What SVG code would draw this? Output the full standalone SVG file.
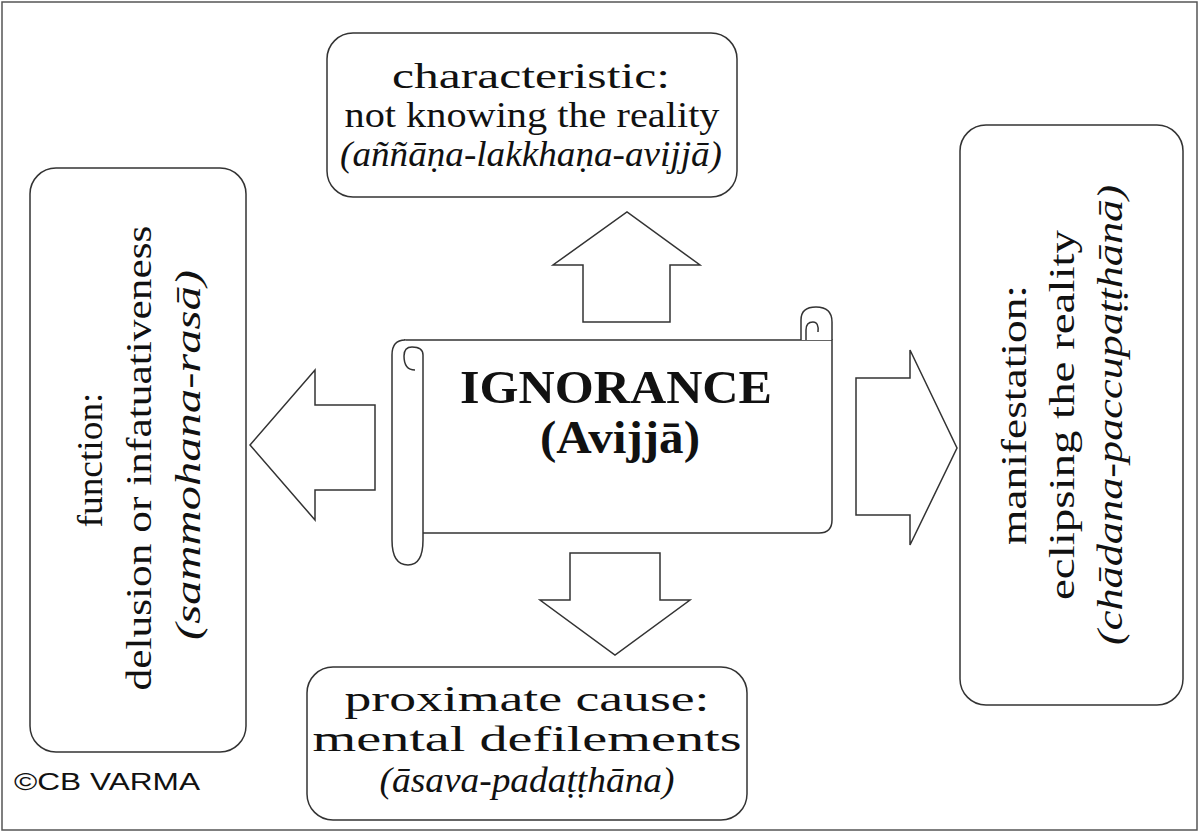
<svg xmlns="http://www.w3.org/2000/svg" width="1200" height="833" viewBox="0 0 1200 833">
<style>
.box{fill:#fff;stroke:#333;stroke-width:1.5}
.ar{fill:#fff;stroke:#333;stroke-width:1.5;stroke-linejoin:miter}
.t{font-family:"Liberation Serif",serif;font-size:36px;fill:#111;text-anchor:middle}
.i{font-style:italic}
.b{font-size:46px;font-weight:bold}
</style>
<rect x="0" y="0" width="1200" height="833" fill="#fff"/>
<rect x="2" y="2" width="1195" height="828" fill="none" stroke="#555" stroke-width="1.5"/>
<g id="connectors">
<polygon class="ar" points="583,322 583,265 553,265 627,212 700,265 670,265 670,322"/>
<polygon class="ar" points="375,405 315,405 315,370 250,445 315,520 315,490 375,490"/>
<polygon class="ar" points="856,378 910,378 910,350 957,448 910,545 910,515 856,515"/>
<polygon class="ar" points="570,553 660,553 660,600 690,600 615,655 540,600 570,600"/>
</g>
<g id="top">
<rect class="box" x="327" y="33" width="410" height="164" rx="26"/>
<text class="t" x="531" y="88" textLength="278" lengthAdjust="spacingAndGlyphs">characteristic:</text>
<text class="t" x="532" y="127" textLength="375" lengthAdjust="spacingAndGlyphs">not knowing the reality</text>
<text class="t i" x="531" y="166" textLength="382" lengthAdjust="spacingAndGlyphs">(aññāṇa-lakkhaṇa-avijjā)</text>
</g>
<g id="left">
<rect class="box" x="30" y="168" width="216" height="584" rx="26"/>
<g transform="translate(138,460) rotate(-90)">
<text class="t" x="0" y="-36" textLength="135" lengthAdjust="spacingAndGlyphs">function:</text>
<text class="t" x="2" y="13" textLength="465" lengthAdjust="spacingAndGlyphs">delusion or infatuativeness</text>
<text class="t i" x="5" y="62" textLength="370" lengthAdjust="spacingAndGlyphs">(sammohana-rasā)</text>
</g>
</g>
<g id="right">
<rect class="box" x="960" y="125" width="223" height="580" rx="26"/>
<g transform="translate(1072,415) rotate(-90)">
<text class="t" x="0" y="-46" textLength="260" lengthAdjust="spacingAndGlyphs">manifestation:</text>
<text class="t" x="0" y="2" textLength="370" lengthAdjust="spacingAndGlyphs">eclipsing the reality</text>
<text class="t i" x="0" y="50" textLength="460" lengthAdjust="spacingAndGlyphs">(chādana-paccupaṭṭhānā)</text>
</g>
</g>
<g id="bottom">
<rect class="box" x="307" y="667" width="440" height="153" rx="26"/>
<text class="t" x="527" y="711" textLength="365" lengthAdjust="spacingAndGlyphs">proximate cause:</text>
<text class="t" x="527" y="751" textLength="429" lengthAdjust="spacingAndGlyphs">mental defilements</text>
<text class="t i" x="527" y="792" textLength="295" lengthAdjust="spacingAndGlyphs">(āsava-padaṭṭhāna)</text>
</g>
<g id="center">
<path class="box" d="M404,340 L832,340 L832,520 Q832,533 819,533 L423,533"/>
<path class="box" d="M405,340 Q392,340 392,355 L392,540 Q392,565 408,565 Q423,565 423,540 L423,355 Q423,347 412,347 Q404,347 404,356 Q404,370 415,370"/>
<path class="box" d="M801,340 L801,320 Q801,307 816,307 Q832,307 832,322 L832,340 M806,340 L806,330 Q806,322 813,322 Q819,322 818,332"/>
<text class="t b" x="616" y="403" textLength="312" lengthAdjust="spacingAndGlyphs">IGNORANCE</text>
<text class="t b" x="620" y="453" textLength="160" lengthAdjust="spacingAndGlyphs">(Avijjā)</text>
</g>
<text x="14" y="790" textLength="186" lengthAdjust="spacingAndGlyphs" style="font-family:'Liberation Sans',sans-serif;font-size:24px;fill:#111">©CB VARMA</text>
</svg>
